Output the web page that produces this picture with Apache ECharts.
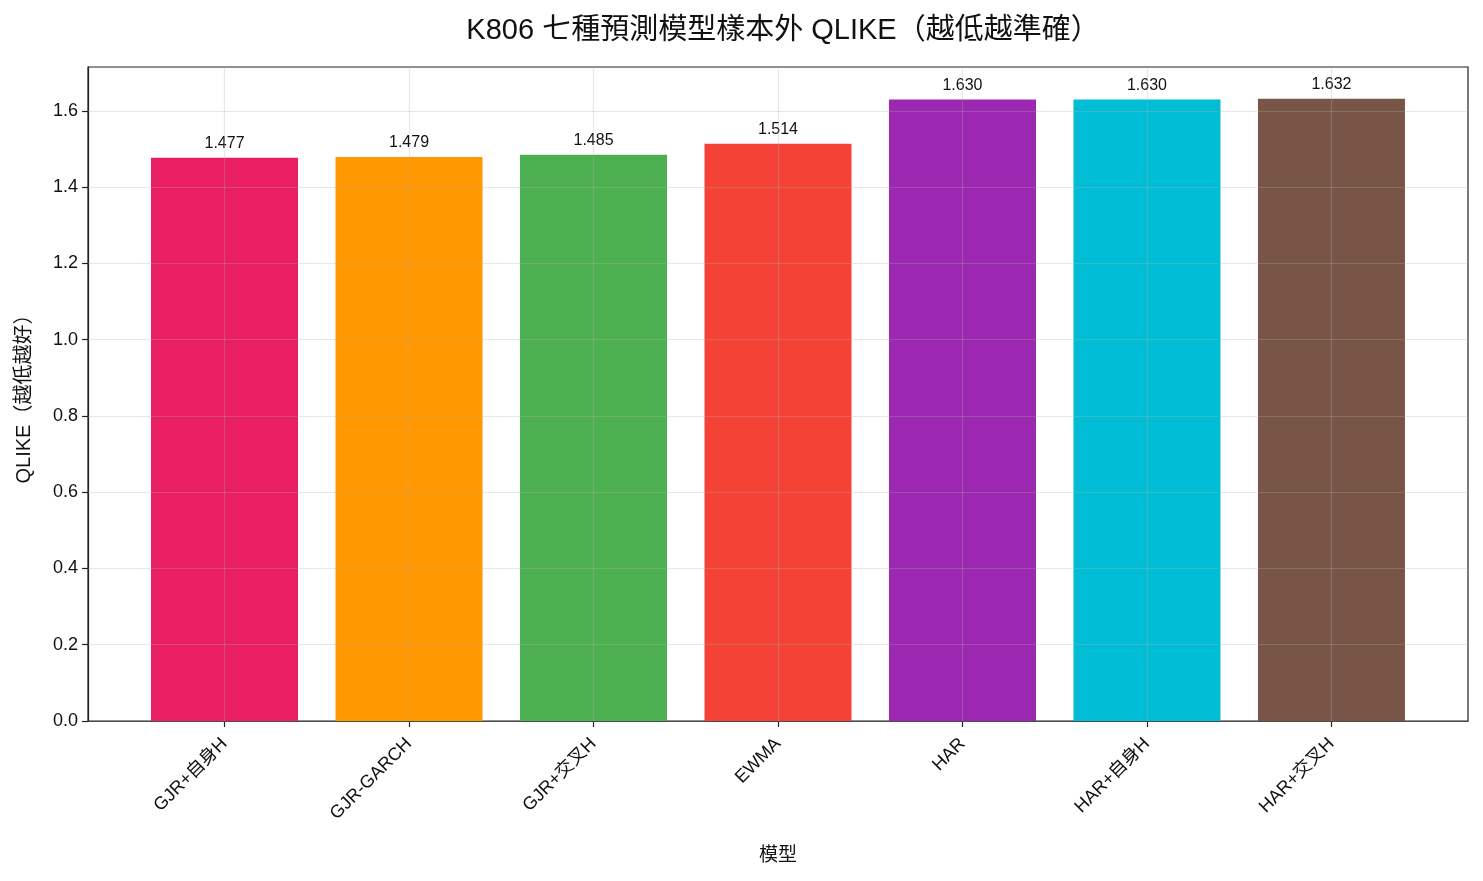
<!DOCTYPE html>
<html>
<head>
<meta charset="utf-8">
<script src="https://cdn.jsdelivr.net/npm/echarts@6/dist/echarts.min.js"></script>
<style>
  html, body { margin: 0; padding: 0; background: #fff; }
  #main { width: 1483px; height: 881px; }
</style>
</head>
<body>
<div id="main"></div>
<script>
// 模型名稱與 QLIKE
var models = ['GJR+自身H', 'GJR-GARCH', 'GJR+交叉H', 'EWMA', 'HAR', 'HAR+自身H', 'HAR+交叉H']
var qlike = [1.477, 1.479, 1.485, 1.514, 1.630, 1.630, 1.632]
var barColors = ['#E91E63', '#FF9800', '#4CAF50', '#F44336', '#9C27B0', '#00BCD4', '#795548']
var yTicks = [0, 0.2, 0.4, 0.6, 0.8, 1.0, 1.2, 1.4, 1.6]

var FONT = "'Liberation Sans', 'Noto Sans CJK TC', sans-serif"
var X_MIN = -0.74
var X_MAX = 6.74
var Y_MAX = 1.715
var xIdx = models.map(function (m, i) { return i })

var barData = qlike.map(function (v, i) {
  return { value: [i, v], itemStyle: { color: barColors[i] } }
})

// grid lines drawn on top of the bars (like matplotlib grid alpha)
var gridLines = []
xIdx.forEach(function (i) { gridLines.push([{ coord: [i, 0] }, { coord: [i, Y_MAX] }]) })
yTicks.forEach(function (v) { gridLines.push([{ coord: [X_MIN, v] }, { coord: [X_MAX, v] }]) })

var myChart = echarts.init(document.getElementById('main'))
myChart.setOption({
  animation: false,
  textStyle: { fontFamily: FONT },
  title: {
    text: 'K806 七種預測模型樣本外 QLIKE（越低越準確）',
    left: 778,
    textAlign: 'center',
    top: 11,
    textStyle: { fontSize: 29, fontWeight: 'normal', color: '#111', fontFamily: FONT }
  },
  grid: {
    left: 88,
    right: 15,
    top: 67,
    bottom: 160,
    show: true,
    borderColor: '#222',
    borderWidth: 1.2
  },
  xAxis: {
    type: 'value',
    min: X_MIN,
    max: X_MAX,
    name: '模型',
    nameLocation: 'middle',
    nameGap: 125,
    nameTextStyle: { fontSize: 19, color: '#111' },
    axisLine: { show: true, onZero: false, lineStyle: { color: '#222', width: 1.2 } },
    axisTick: { show: true, customValues: xIdx, length: 6, lineStyle: { color: '#222', width: 1.2 } },
    axisLabel: {
      customValues: xIdx,
      rotate: 45,
      fontSize: 18,
      color: '#111',
      margin: 20,
      formatter: function (v) { return models[Math.round(v)] }
    },
    splitLine: { show: false }
  },
  yAxis: {
    type: 'value',
    min: 0,
    max: Y_MAX,
    name: 'QLIKE（越低越好）',
    nameLocation: 'middle',
    nameGap: 54,
    nameTextStyle: { fontSize: 20, color: '#111' },
    axisLine: { show: true, onZero: false, lineStyle: { color: '#222', width: 1.2 } },
    axisTick: { show: true, customValues: yTicks, length: 6, lineStyle: { color: '#222', width: 1.2 } },
    axisLabel: {
      customValues: yTicks,
      fontSize: 18,
      color: '#111',
      margin: 10,
      formatter: function (v) { return v.toFixed(1) }
    },
    splitLine: { show: false }
  },
  series: [{
    type: 'bar',
    data: barData,
    barWidth: 147,
    label: {
      show: true,
      position: 'top',
      distance: 6,
      fontSize: 16,
      color: '#111',
      formatter: function (p) { return p.value[1].toFixed(3) }
    },
    markLine: {
      silent: true,
      symbol: ['none', 'none'],
      z: 10,
      label: { show: false },
      emphasis: { disabled: true },
      lineStyle: { color: 'rgba(176,176,176,0.3)', width: 1.2, type: 'solid' },
      data: gridLines
    }
  }]
})
</script>
</body>
</html>
